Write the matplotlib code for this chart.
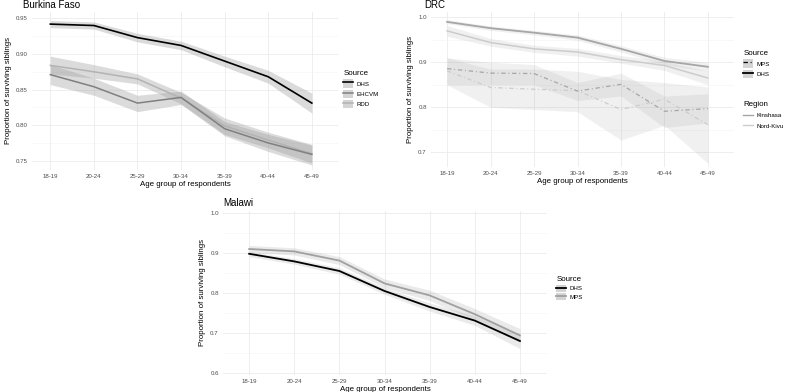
import numpy as np
import matplotlib.pyplot as plt
from matplotlib.patches import Patch
from matplotlib.lines import Line2D

plt.rcParams['font.family'] = ['Liberation Sans', 'DejaVu Sans']

ages = ["18-19", "20-24", "25-29", "30-34", "35-39", "40-44", "45-49"]

# Burkina Faso
bf_dhs = [0.942, 0.940, 0.923, 0.912, 0.890, 0.868, 0.831]
bf_dhs_lo = [0.937, 0.935, 0.917, 0.906, 0.882, 0.859, 0.817]
bf_dhs_hi = [0.947, 0.945, 0.929, 0.918, 0.897, 0.877, 0.845]
bf_ehcvm = [0.871, 0.854, 0.831, 0.839, 0.795, 0.775, 0.759]
bf_ehcvm_lo = [0.857, 0.842, 0.819, 0.829, 0.785, 0.763, 0.744]
bf_ehcvm_hi = [0.885, 0.866, 0.842, 0.848, 0.805, 0.787, 0.772]
bf_rdd = [0.884, 0.875, 0.865, 0.838, 0.799, 0.779, 0.760]
bf_rdd_lo = [0.872, 0.866, 0.858, 0.830, 0.787, 0.768, 0.747]
bf_rdd_hi = [0.897, 0.885, 0.872, 0.846, 0.810, 0.790, 0.773]

# DRC
drc_dhs_kin = [0.990, 0.976, 0.966, 0.955, 0.930, 0.903, 0.890]
drc_dhs_kin_lo = [0.986, 0.971, 0.961, 0.949, 0.923, 0.894, 0.880]
drc_dhs_kin_hi = [0.995, 0.981, 0.971, 0.961, 0.937, 0.911, 0.900]
drc_dhs_nk = [0.970, 0.944, 0.930, 0.923, 0.906, 0.893, 0.865]
drc_dhs_nk_lo = [0.958, 0.936, 0.922, 0.914, 0.898, 0.882, 0.850]
drc_dhs_nk_hi = [0.982, 0.953, 0.938, 0.931, 0.915, 0.903, 0.880]
drc_mps_kin = [0.886, 0.876, 0.875, 0.836, 0.851, 0.791, 0.797]
drc_mps_kin_lo = [0.850, 0.850, 0.850, 0.815, 0.825, 0.755, 0.765]
drc_mps_kin_hi = [0.910, 0.900, 0.895, 0.855, 0.876, 0.825, 0.830]
drc_mps_nk = [0.881, 0.844, 0.840, 0.837, 0.795, 0.818, 0.761]
drc_mps_nk_lo = [0.850, 0.800, 0.795, 0.790, 0.727, 0.760, 0.675]
drc_mps_nk_hi = [0.910, 0.885, 0.885, 0.880, 0.862, 0.855, 0.845]

# Malawi
mw_dhs = [0.897, 0.878, 0.854, 0.804, 0.764, 0.730, 0.679]
mw_dhs_lo = [0.890, 0.871, 0.846, 0.796, 0.754, 0.718, 0.660]
mw_dhs_hi = [0.903, 0.885, 0.862, 0.812, 0.774, 0.742, 0.695]
mw_mps = [0.909, 0.903, 0.880, 0.823, 0.793, 0.746, 0.693]
mw_mps_lo = [0.900, 0.894, 0.870, 0.812, 0.780, 0.732, 0.676]
mw_mps_hi = [0.918, 0.912, 0.890, 0.834, 0.806, 0.760, 0.710]

W, H = 788, 392
TICK_FS = 4.4
LAB_FS = 5.7
TITLE_FS = 7
DOTDASH = (0, (3.5, 2.2, 0.8, 2.2))


def box(l, t, r, b):
    return [l / W, 1 - b / H, (r - l) / W, (b - t) / H]


def style_axes(ax, yticks, yminor, ylim, xlim):
    ax.set_xlim(*xlim)
    ax.set_ylim(*ylim)
    ax.set_xticks(range(len(ages)))
    ax.set_xticklabels(ages)
    ax.set_yticks(yticks)
    ax.set_yticks(yminor, minor=True)
    ax.grid(True, which='major', color='#ebebeb', lw=0.6)
    ax.grid(True, which='minor', axis='y', color='#f3f3f3', lw=0.4)
    ax.set_axisbelow(True)
    for s in ax.spines.values():
        s.set_visible(False)
    ax.tick_params(length=0, labelsize=TICK_FS, labelcolor='#4d4d4d', pad=3)
    ax.tick_params(which='minor', length=0)
    ax.set_xlabel('Age group of respondents', fontsize=LAB_FS, labelpad=1.5)
    ax.set_ylabel('Proportion of surviving siblings', fontsize=LAB_FS, labelpad=3)


def ribbon(ax, lo, hi, alpha=0.3):
    x = np.arange(len(ages))
    ax.fill_between(x, lo, hi, color='#9a9a9a', alpha=alpha, lw=0)


fig = plt.figure(figsize=(W / 100, H / 100), dpi=100)
x = np.arange(len(ages))

# ---- Burkina Faso
ax1 = fig.add_axes(box(32, 12, 338, 170))
for lo, hi in [(bf_dhs_lo, bf_dhs_hi), (bf_ehcvm_lo, bf_ehcvm_hi), (bf_rdd_lo, bf_rdd_hi)]:
    ribbon(ax1, lo, hi, alpha=0.35)
ax1.plot(x, bf_rdd, color='#b3b3b3', lw=1.1)
ax1.plot(x, bf_ehcvm, color='#808080', lw=1.1)
ax1.plot(x, bf_dhs, color='black', lw=1.2)
style_axes(ax1, [0.75, 0.80, 0.85, 0.90, 0.95], [0.775, 0.825, 0.875, 0.925],
           (0.737, 0.959), (-0.42, 6.6))
ax1.set_yticklabels(['0.75', '0.80', '0.85', '0.90', '0.95'])
fig.text(23 / W, 1 - 5 / H, 'Burkina Faso', fontsize=TITLE_FS, va='center', ha='left')

key_patch = dict(facecolor='#d4d4d4', edgecolor='none')
h1 = [(Patch(**key_patch), Line2D([], [], color=c, lw=lw)) for c, lw in
      [('black', 1.2), ('#808080', 1.1), ('#b3b3b3', 1.1)]]
leg = fig.legend(h1, ['DHS', 'EHCVM', 'RDD'], title='Source', loc='upper left',
                 bbox_to_anchor=(339 / W, 1 - 66 / H), frameon=False,
                 fontsize=TICK_FS, title_fontsize=LAB_FS, handlelength=1.6,
                 handleheight=1.7, labelspacing=0.35, handletextpad=0.6,
                 borderpad=0.2)
leg._legend_box.align = 'left'

# ---- DRC
ax2 = fig.add_axes(box(431, 12, 734, 167))
for lo, hi in [(drc_mps_nk_lo, drc_mps_nk_hi), (drc_mps_kin_lo, drc_mps_kin_hi),
               (drc_dhs_nk_lo, drc_dhs_nk_hi), (drc_dhs_kin_lo, drc_dhs_kin_hi)]:
    ribbon(ax2, lo, hi, alpha=0.14)
ax2.plot(x, drc_mps_nk, color='#cccccc', lw=0.9, ls=DOTDASH)
ax2.plot(x, drc_mps_kin, color='#a6a6a6', lw=0.9, ls=DOTDASH)
ax2.plot(x, drc_dhs_nk, color='#cccccc', lw=1.1)
ax2.plot(x, drc_dhs_kin, color='#a6a6a6', lw=1.3)
style_axes(ax2, [0.7, 0.8, 0.9, 1.0], [0.75, 0.85, 0.95],
           (0.667, 1.012), (-0.37, 6.6))
fig.text(424 / W, 1 - 5 / H, 'DRC', fontsize=TITLE_FS, va='center', ha='left')

h2 = [(Patch(**key_patch), Line2D([], [], color='black', lw=0.9, ls=DOTDASH)),
      (Patch(**key_patch), Line2D([], [], color='black', lw=1.3))]
leg2 = fig.legend(h2, ['MPS', 'DHS'], title='Source', loc='upper left',
                  bbox_to_anchor=(739 / W, 1 - 46 / H), frameon=False,
                  fontsize=TICK_FS, title_fontsize=LAB_FS, handlelength=1.6,
                  handleheight=1.7, labelspacing=0.35, handletextpad=0.6,
                  borderpad=0.2)
leg2._legend_box.align = 'left'
h3 = [Line2D([], [], color='#a6a6a6', lw=1.0), Line2D([], [], color='#cccccc', lw=1.0)]
leg3 = fig.legend(h3, ['Kinshasa', 'Nord-Kivu'], title='Region', loc='upper left',
                  bbox_to_anchor=(739 / W, 1 - 97 / H), frameon=False,
                  fontsize=TICK_FS, title_fontsize=LAB_FS, handlelength=1.6,
                  labelspacing=0.8, handletextpad=0.6, borderpad=0.2)
leg3._legend_box.align = 'left'

# ---- Malawi
ax3 = fig.add_axes(box(223, 211, 547, 375))
for lo, hi in [(mw_mps_lo, mw_mps_hi), (mw_dhs_lo, mw_dhs_hi)]:
    ribbon(ax3, lo, hi, alpha=0.2)
ax3.plot(x, mw_mps, color='#a0a0a0', lw=1.3)
ax3.plot(x, mw_dhs, color='black', lw=1.3)
style_axes(ax3, [0.6, 0.7, 0.8, 0.9, 1.0], [0.65, 0.75, 0.85, 0.95],
           (0.594, 1.004), (-0.58, 6.6))
fig.text(223 / W, 1 - 203 / H, 'Malawi', fontsize=TITLE_FS, va='center', ha='left')

h4 = [(Patch(**key_patch), Line2D([], [], color='black', lw=1.3)),
      (Patch(**key_patch), Line2D([], [], color='#a0a0a0', lw=1.3))]
leg4 = fig.legend(h4, ['DHS', 'MPS'], title='Source', loc='upper left',
                  bbox_to_anchor=(552 / W, 1 - 272 / H), frameon=False,
                  fontsize=TICK_FS, title_fontsize=LAB_FS, handlelength=1.6,
                  handleheight=1.4, labelspacing=0.25, handletextpad=0.6,
                  borderpad=0.2)
leg4._legend_box.align = 'left'

fig.savefig('out.png', dpi=100)
